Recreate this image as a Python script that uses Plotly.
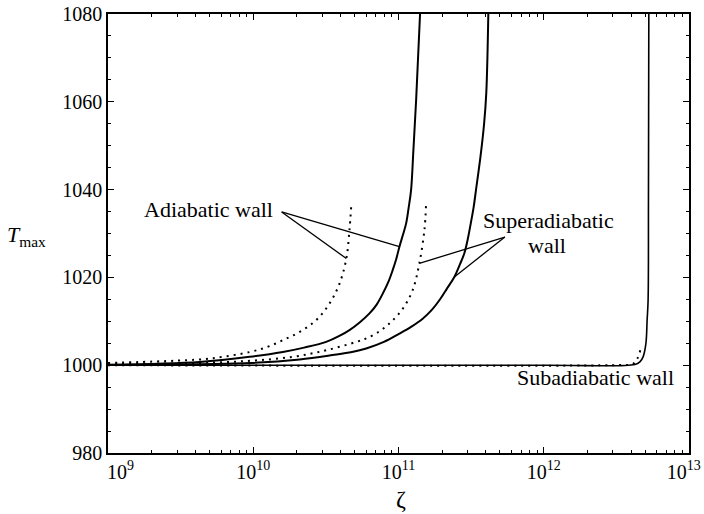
import math
import plotly.graph_objects as go

# Maximum temperature T_max against the parameter zeta, for three wall conditions.
# Solid curves: full solution; dotted curves: approximate solution.

adia_zeta = [1.0e9, 4.29e9, 9.46e9, 1.60e10, 2.24e10, 3.18e10, 3.89e10, 4.60e10,
             5.43e10, 6.32e10, 7.08e10, 7.80e10, 8.51e10, 9.14e10, 9.66e10,
             1.016e11, 1.072e11, 1.130e11, 1.175e11, 1.222e11, 1.268e11,
             1.324e11, 1.409e11]
adia_T = [1000.1, 1000.75, 1001.9, 1003.0, 1004.0, 1005.3, 1006.6, 1008.0,
          1009.8, 1011.8, 1013.8, 1016.3, 1018.9, 1021.7, 1024.2,
          1027.0, 1029.6, 1032.3, 1035.8, 1039.9, 1049.0,
          1060.4, 1080.0]

adia_approx_zeta = [1.0e9, 4.29e9, 5.58e9, 9.46e9, 1.26e10, 1.60e10, 2.09e10,
                    2.72e10, 3.36e10, 3.94e10, 4.38e10, 4.60e10, 4.73e10]
adia_approx_T = [1000.5, 1001.3, 1001.7, 1003.0, 1004.2, 1005.7, 1007.6,
                 1010.3, 1014.1, 1018.7, 1024.3, 1030.8, 1036.2]

super_zeta = [1.0e9, 9.46e9, 2.09e10, 3.52e10, 4.79e10, 6.00e10, 7.94e10,
              1.016e11, 1.230e11, 1.469e11, 1.698e11, 1.914e11, 2.163e11,
              2.427e11, 2.630e11, 2.844e11, 3.006e11, 3.148e11, 3.296e11,
              3.420e11, 3.673e11, 3.890e11, 4.027e11, 4.159e11]
super_T = [1000.05, 1000.5, 1001.3, 1002.3, 1003.0, 1003.8, 1005.3,
           1007.2, 1008.8, 1010.6, 1012.6, 1014.8, 1017.5,
           1020.1, 1022.7, 1025.5, 1028.8, 1032.3, 1036.0,
           1039.9, 1047.5, 1055.0, 1062.0, 1080.0]

super_approx_zeta = [1.0e9, 4.29e9, 9.46e9, 1.87e10, 3.18e10, 5.12e10, 6.00e10,
                     7.24e10, 8.67e10, 1.072e11, 1.253e11, 1.393e11, 1.510e11,
                     1.549e11]
super_approx_T = [1000.3, 1000.5, 1001.0, 1001.9, 1003.4, 1005.3, 1006.1,
                  1007.5, 1009.5, 1012.9, 1017.1, 1023.2, 1030.8, 1036.5]

sub_zeta = [1.0e9, 1.0e12, 4.25e12, 4.60e12, 4.84e12, 5.06e12, 5.16e12,
            5.24e12, 5.27e12, 5.30e12]
sub_T = [1000.0, 1000.0, 1000.16, 1000.75, 1001.9, 1004.9, 1010.3,
         1014.8, 1037.6, 1080.0]

sub_approx_zeta = [1.0e9, 3.35e12, 4.11e12, 4.42e12, 4.63e12]
sub_approx_T = [1000.0, 1000.05, 1000.25, 1001.5, 1003.4]

x_tick_vals = [1e9, 1e10, 1e11, 1e12, 1e13]
x_tick_text = ["\u00a0\u00a0\u00a0\u00a0\u00a010<sup>9</sup>", "10<sup>10</sup>",
               "10<sup>11</sup>", "10<sup>12</sup>", "10<sup>13</sup>\u00a0\u00a0"]
y_tick_vals = [980, 1000, 1020, 1040, 1060, 1080]

FONT = "Liberation Serif, Times New Roman, serif"
INK = "black"
DOTS = "2px,5px"

fig = go.Figure()

def curve(x, y, width, dash="solid"):
    fig.add_trace(go.Scatter(
        x=x, y=y, mode="lines",
        line=dict(color=INK, width=width, dash=dash, shape="spline", smoothing=1.0),
        showlegend=False, hoverinfo="skip", cliponaxis=True))

curve(sub_zeta, sub_T, 1.6)
curve(sub_approx_zeta, sub_approx_T, 2.0, DOTS)
curve(adia_zeta, adia_T, 2.0)
curve(adia_approx_zeta, adia_approx_T, 2.0, DOTS)
curve(super_zeta, super_T, 2.0)
curve(super_approx_zeta, super_approx_T, 2.0, DOTS)

# Leader lines from the labels to the curves
adia_vertex = (1.57e10, 1034.9)
super_vertex = (5.41e11, 1029.2)
leaders = [
    (adia_vertex, (adia_zeta[15], adia_T[15])),
    (adia_vertex, (adia_approx_zeta[10], adia_approx_T[10])),
    (super_vertex, (super_approx_zeta[11], super_approx_T[11])),
    (super_vertex, (super_zeta[13], super_T[13])),
]
for (x0, y0), (x1, y1) in leaders:
    fig.add_trace(go.Scatter(x=[x0, x1], y=[y0, y1], mode="lines",
                             line=dict(color=INK, width=1.3),
                             showlegend=False, hoverinfo="skip"))

minor_x = [k * 10 ** d for d in range(9, 13) for k in range(2, 10)]

axis_common = dict(
    showline=True, linecolor=INK, linewidth=1.6, mirror="ticks",
    ticks="inside", ticklen=6, tickwidth=1.3, tickcolor=INK,
    showgrid=False, zeroline=False, ticklabeloverflow="allow",
    automargin=False,
    tickfont=dict(family=FONT, size=20, color=INK),
)

fig.update_layout(
    width=704, height=514,
    margin=dict(l=108, r=15, t=14, b=61),
    paper_bgcolor="white", plot_bgcolor="white",
    font=dict(family=FONT, color=INK),
    xaxis=dict(type="log", range=[9, 13.001], tickmode="array",
               tickvals=x_tick_vals, ticktext=x_tick_text,
               minor=dict(tickmode="array", tickvals=minor_x, ticks="inside",
                          ticklen=3.5, tickwidth=1.1, tickcolor=INK),
               **axis_common),
    yaxis=dict(range=[980, 1080], tickmode="array", tickvals=y_tick_vals,
               minor=dict(dtick=5, ticks="inside", ticklen=3.5, tickwidth=1.1,
                          tickcolor=INK),
               **axis_common),
)

def label(text, x, y, xanchor="center", size=22):
    fig.add_annotation(text=text, x=math.log10(x), y=y, xref="x", yref="y",
                       xanchor=xanchor, yanchor="middle", showarrow=False,
                       font=dict(family=FONT, size=size, color=INK))

label("Adiabatic wall", 1.41e10, 1035.4, xanchor="right")
label("Superadiabatic", 1.087e12, 1032.9)
label("wall", 1.052e12, 1027.2)
label("Subadiabatic wall", 8.1e12, 997.2, xanchor="right")

fig.add_annotation(text="<i>T</i><sub>max</sub>", x=-0.141, y=1029.4,
                   xref="paper", yref="y", xanchor="center", yanchor="middle",
                   showarrow=False, font=dict(family=FONT, size=22, color=INK))
fig.add_annotation(text="\u03b6", x=0.504, y=-0.105, xref="paper", yref="paper",
                   xanchor="center", yanchor="middle", showarrow=False,
                   font=dict(family=FONT, size=24, color=INK))

fig.write_html("out.html")
